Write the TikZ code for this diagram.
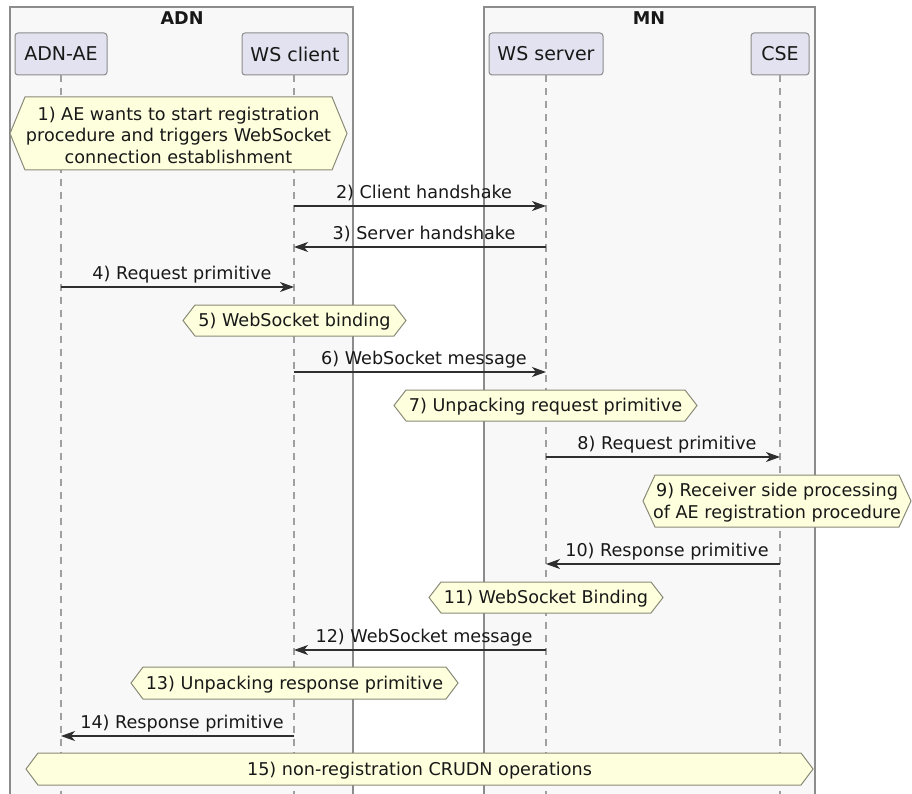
\documentclass[tikz,border=0pt]{standalone}
\usepackage{fontspec}
\setmainfont{DejaVu Sans}
\usetikzlibrary{arrows.meta}
\definecolor{grpfill}{HTML}{F8F8F8}
\definecolor{grpline}{HTML}{8C8C8C}
\definecolor{partfill}{HTML}{E2E2F0}
\definecolor{notefill}{HTML}{FEFFDD}
\definecolor{noteline}{HTML}{8A8A78}
\definecolor{ink}{HTML}{181818}
\definecolor{lifecol}{HTML}{A0A0A0}
\tikzset{
 grp/.style={fill=grpfill, draw=grpline, line width=1.1pt},
 part/.style={rectangle, rounded corners=3pt, fill=partfill, draw=grpline, line width=1pt, inner sep=0pt, font=\fontsize{19}{22}\selectfont, text=ink},
 life/.style={draw=lifecol, line width=1.2pt, dash pattern=on 7pt off 6pt},
 msg/.style={draw=ink!90, line width=1.2pt, -{Stealth[length=14pt,width=10pt,inset=4pt]}},
 lbl/.style={font=\fontsize{17.6}{21}\selectfont, text=ink, anchor=base, inner sep=0pt},
 notebg/.style={fill=notefill, draw=noteline, line width=1pt, line join=miter},
 notetxt/.style={font=\fontsize{17.6}{21.5}\selectfont, text=ink, align=center, inner sep=0pt},
 ttl/.style={font=\bfseries\fontsize{17.6}{21}\selectfont, text=ink, inner sep=0pt},
}
% name, xl, xr, yt, yb, indent, text
\newcommand{\hexnote}[7]{%
  \path[notebg] ({#2},{(#4+#5)/2}) -- ({#2+#6},{#4}) -- ({#3-#6},{#4}) -- ({#3},{(#4+#5)/2}) -- ({#3-#6},{#5}) -- ({#2+#6},{#5}) -- cycle;
  \node[notetxt] (#1) at ({(#2+#3)/2},{(#4+#5)/2+1.5}) {#7};
}
% name, from, to, y, labelx, text
\newcommand{\msgline}[6]{%
  \draw[msg] ([yshift=-#4pt]#2) -- ([yshift=-#4pt]#3);
  \node[lbl] (#1) at (#5,#4-7.5) {#6};
}
\begin{document}
\begin{tikzpicture}[x=1pt,y=-1pt]
\useasboundingbox (0,0) rectangle (912,794);
% group boxes
\path[grp] (10,7) rectangle (353,800);
\path[grp] (484,7) rectangle (815,800);
\node[ttl] (adnT) at (182,18) {ADN};
\node[ttl] (mnT) at (649,18) {MN};
% lifeline anchors
\coordinate (Lae) at (61,0);
\coordinate (Lwc) at (294,0);
\coordinate (Lws) at (546,0);
\coordinate (Lcs) at (780,0);
\coordinate (Eae) at (61,800);
\coordinate (Ewc) at (294,800);
\coordinate (Ews) at (546,800);
\coordinate (Ecs) at (780,800);
% participants
\node[part, minimum width=92pt, minimum height=42pt] (ae) at (61,54) {ADN-AE};
\node[part, minimum width=106pt, minimum height=42pt] (wc) at (295,54) {WS client};
\node[part, minimum width=114pt, minimum height=42pt] (ws) at (546,54) {WS server};
\node[part, minimum width=58pt, minimum height=42pt] (cs) at (780,54) {CSE};
\draw[life] (ae.south) -- (Eae);
\draw[life] (wc.south -| Lwc) -- (Ewc);
\draw[life] (ws.south) -- (Ews);
\draw[life] (cs.south) -- (Ecs);
% sequence
\hexnote{n1}{10}{347}{97}{170}{15}{1) AE wants to start registration\\procedure and triggers WebSocket\\connection establishment}
\msgline{m2}{Lwc}{Lws}{206}{424}{2) Client handshake}
\msgline{m3}{Lws}{Lwc}{247}{424}{3) Server handshake}
\msgline{m4}{Lae}{Lwc}{287}{182}{4) Request primitive}
\hexnote{n5}{183}{406}{305}{336}{12}{5) WebSocket binding}
\msgline{m6}{Lwc}{Lws}{372}{424}{6) WebSocket message}
\hexnote{n7}{394}{697}{390}{421}{12}{7) Unpacking request primitive}
\msgline{m8}{Lws}{Lcs}{457}{667}{8) Request primitive}
\hexnote{n9}{643}{911}{475}{527}{12}{9) Receiver side processing\\of AE registration procedure}
\msgline{m10}{Lcs}{Lws}{564}{667}{10) Response primitive}
\hexnote{n11}{429}{663}{582}{613}{12}{11) WebSocket Binding}
\msgline{m12}{Lws}{Lwc}{650}{424}{12) WebSocket message}
\hexnote{n13}{131}{458}{667}{699}{12}{13) Unpacking response primitive}
\msgline{m14}{Lwc}{Lae}{736}{182}{14) Response primitive}
\hexnote{n15}{26}{813}{753}{785}{12}{15) non-registration CRUDN operations}
\end{tikzpicture}
\end{document}
